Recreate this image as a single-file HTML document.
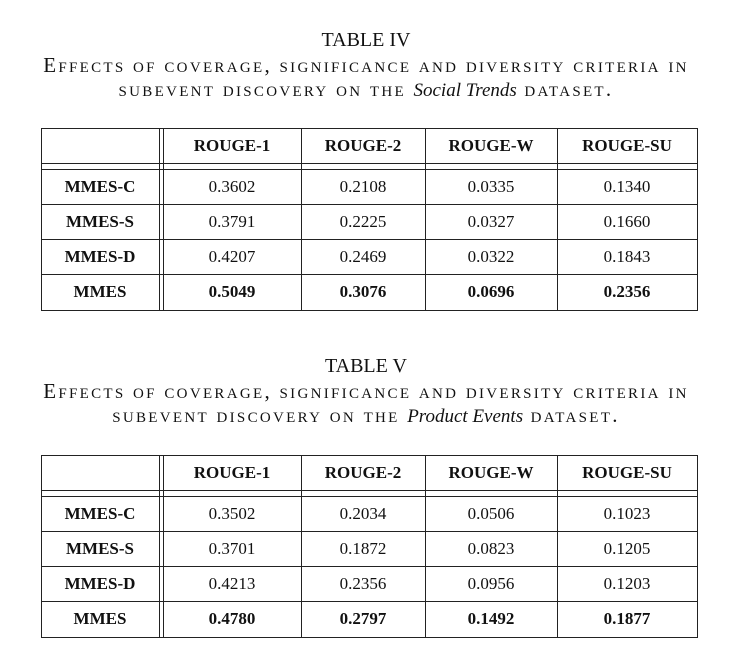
<!DOCTYPE html>
<html><head><meta charset="utf-8"><style>
body{margin:0;width:732px;height:666px;background:#fff;position:relative;overflow:hidden;font-family:"Liberation Serif","Times New Roman",Times,serif;color:#111}
.t{position:absolute;left:0;width:732px;text-align:center;white-space:nowrap}
.title{font-size:20px}
.cap{font-size:21px;font-variant:small-caps;letter-spacing:2.3px}
.cap i{font-variant:normal;letter-spacing:0;font-size:19px}
.l{position:absolute;background:#222}
.c{position:absolute;text-align:center;font-size:17px;line-height:20px}
.b{font-weight:bold}
</style></head><body>
<div class="t title" style="top:29px">TABLE IV</div>
<div class="t cap" style="top:53px">Effects of coverage, significance and diversity criteria in</div>
<div class="t cap" style="top:77px">subevent discovery on the <i>Social Trends</i> dataset.</div>
<div class="t title" style="top:355px">TABLE V</div>
<div class="t cap" style="top:379px">Effects of coverage, significance and diversity criteria in</div>
<div class="t cap" style="top:403px">subevent discovery on the <i>Product Events</i> dataset.</div>
<script>
const headers=["ROUGE-1","ROUGE-2","ROUGE-W","ROUGE-SU"];
const rowNames=["MMES-C","MMES-S","MMES-D","MMES"];
const tableIV=[["0.3602","0.2108","0.0335","0.1340"],["0.3791","0.2225","0.0327","0.1660"],["0.4207","0.2469","0.0322","0.1843"],["0.5049","0.3076","0.0696","0.2356"]];
const tableV=[["0.3502","0.2034","0.0506","0.1023"],["0.3701","0.1872","0.0823","0.1205"],["0.4213","0.2356","0.0956","0.1203"],["0.4780","0.2797","0.1492","0.1877"]];
const colX=[41,163,301,425,557,697];
function line(x,y,w,h,name){const d=document.createElement('div');d.className='l';


d.style.cssText=`left:${x}px;top:${y}px;width:${w}px;height:${h}px`;document.body.appendChild(d);}
function cell(x1,x2,y1,y2,txt,bold,name){const d=document.createElement('div');d.className='c'+(bold?' b':'');


d.textContent=txt;d.style.left=x1+'px';d.style.width=(x2-x1)+'px';d.style.top=((y1+y2)/2-10)+'px';document.body.appendChild(d);}
function table(top,data,p){
 const ys=[top,top+35,top+41,top+76,top+111,top+146,top+182];
 const bot=ys[6];
 [0,1,2,3,4,5,6].forEach(i=>line(41,ys[i],657,1,p+'-hline'));
 line(41,top,1,bot-top+1,p+'-vline');line(159,top,1,bot-top+1,p+'-vline');
 [163,301,425,557,697].forEach(x=>line(x,top,1,bot-top+1,p+'-vline'));
 headers.forEach((h,j)=>cell(colX[j+1],colX[j+2],ys[0],ys[1],h,true,p+'-header-'+h.toLowerCase()));
 rowNames.forEach((r,i)=>{const y1=ys[i+2],y2=ys[i+3];
  cell(41,159,y1,y2,r,true,p+'-row-label-'+r.toLowerCase());
  data[i].forEach((v,j)=>cell(colX[j+1],colX[j+2],y1,y2,v,i===3,p+'-cell-'+r.toLowerCase()+'-'+headers[j].toLowerCase()));});
}
table(128,tableIV,'table-iv');
table(455,tableV,'table-v');
</script>
</body></html>
